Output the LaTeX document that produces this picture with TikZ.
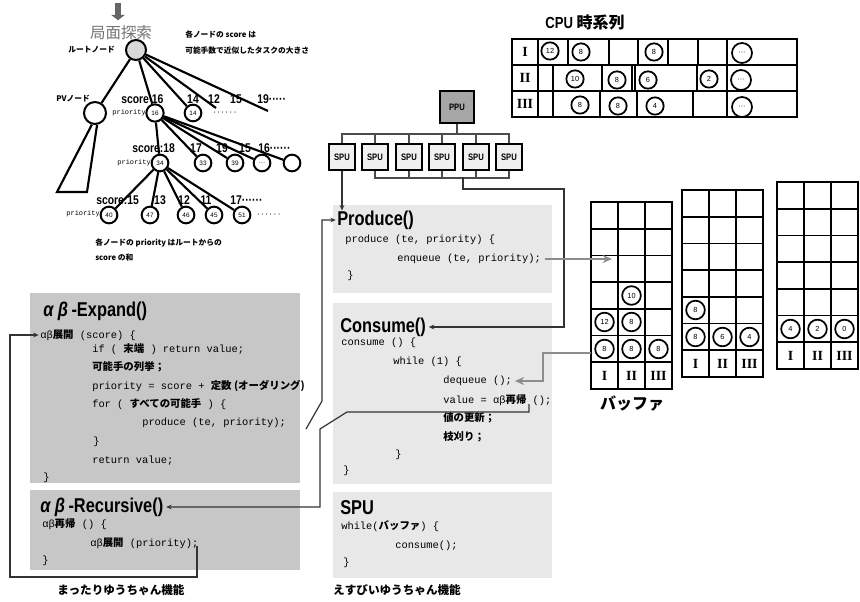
\documentclass[tikz,border=0pt]{standalone}
\usepackage{fontspec}
\setmainfont{Liberation Sans}
\setmonofont{Liberation Mono}
\newfontfamily\jp{Noto Sans CJK JP}
\newfontfamily\condb{Liberation Sans}[FakeStretch=0.82]
\newfontfamily\romanf{Liberation Serif}
\usepackage{tikz}
\usetikzlibrary{arrows.meta}
\newcommand{\jb}[1]{{\jp\bfseries #1}}
\definecolor{cPanel}{gray}{0.78}
\definecolor{cPanelLt}{gray}{0.91}
\definecolor{cFeed}{gray}{0.55}
\tikzset{
	tnode/.style  ={circle, draw=black, line width=1.5pt, minimum size=12.5pt, inner sep=0pt, font=\fontsize{4.8}{5}\selectfont},
	tedge/.style  ={line width=1.6pt},
	score/.style  ={font=\condb\bfseries\fontsize{9.5}{10}\selectfont, inner sep=0pt},
	prio/.style   ={font=\ttfamily\fontsize{5.2}{6}\selectfont, inner sep=0pt, anchor=east},
	note/.style   ={font=\jp\bfseries\fontsize{5.8}{6}\selectfont, inner sep=0pt, anchor=west},
	panel/.style  ={fill=cPanel},
	panellt/.style={fill=cPanelLt},
	head/.style   ={font=\condb\bfseries\fontsize{15}{16}\selectfont, anchor=west, inner sep=0pt},
	code/.style   ={font=\ttfamily\fontsize{7.8}{8}\selectfont, anchor=west, inner sep=0pt},
	unit/.style   ={rectangle, draw=black, line width=1.4pt, minimum width=19pt, minimum height=19.5pt, fill=black!6, font=\condb\bfseries\fontsize{7}{7}\selectfont},
	bus/.style    ={line width=0.9pt, draw=black!70},
	link/.style   ={-{Stealth[length=4pt,width=3.5pt]}, line width=0.9pt, draw=black!80},
	feed/.style   ={-{Stealth[length=7pt,width=6pt]}, line width=1.8pt, draw=cFeed},
	slot/.style   ={circle, draw=black, line width=1.3pt, minimum size=13pt, inner sep=0pt, font=\fontsize{5.5}{6}\selectfont},
	gridline/.style={line width=1.3pt},
	roman/.style  ={font=\romanf\bfseries\fontsize{10.5}{11}\selectfont, inner sep=0pt},
	caption/.style={font=\jp\bfseries\fontsize{8.7}{9}\selectfont, inner sep=0pt},
}

\begin{document}
\begin{tikzpicture}[x=0.75pt, y=-0.75pt]
\useasboundingbox (0,0) rectangle (860,602);

% code panels
\path[panellt] (333,205) rectangle (552,293);
\path[panellt] (333,303) rectangle (552,484);
\path[panellt] (333,492) rectangle (552,578);
\path[panel] (30,293) rectangle (300,483);
\path[panel] (30,490) rectangle (300,570);

% search tree
\coordinate (drop) at (118,3);
\node[inner sep=0pt, font=\jp\fontsize{11.6}{12}\selectfont, text=black!55] (search) at (121,33) {局面探索};
\draw[line width=5pt, draw=black!60, shorten >=4pt, -{Triangle[length=4pt,width=10pt]}] (drop) -- (search.north -| drop);
\node[tnode, fill=black!15, minimum size=15pt] (root) at (136,50) {};
\node[note, anchor=east] (rootlbl) at (115,50) {ルートノード};
\node[note] (sizenote1) at (185,35) {各ノードの score は};
\node[note] (sizenote2) at (185,51) {可能手数で近似したタスクの大きさ};

\node[tnode, minimum size=16.5pt] (pv) at (95,113) {};
\node[tnode, minimum size=13pt] (n16) at (155,113) {16};
\node[tnode] (n14) at (193,113) {14};
\coordinate (c12) at (216,108);
\coordinate (c19) at (268,111);
\node[note] (pvlbl) at (56,99) {PVノード};
\node[score, anchor=west] (s16) at (121,99) {score 16};
\node[score] (s14) at (193,99) {14};
\node[score] (s12) at (214,99) {12};
\node[score] (s15) at (236,99) {15};
\node[score, anchor=west] (s19) at (257,99) {19·····};
\node[prio] (p16) at (146,113) {priority};
\node[prio, anchor=west] (more1) at (212,113) {······};
\foreach \t in {pv,n16,n14,c12,c19} \draw[tedge] (root) -- (\t);
\coordinate (pvl) at (57,192);
\coordinate (pvr) at (87,192);
\draw[tedge] (pv.-105) -- (pvl) -- (pvr) -- (pv.-80);

\node[tnode] (n34) at (160,163) {34};
\node[tnode] (n33) at (203,163) {33};
\node[tnode] (n39) at (235,163) {39};
\node[tnode] (n2d) at (262,163) {···};
\node[tnode] (n2e) at (292,163) {};
\node[score, anchor=west] (s18) at (132,148) {score:18};
\node[score] (s17) at (196,148) {17};
\node[score] (s19b) at (222,148) {19};
\node[score] (s15b) at (245,148) {15};
\node[score, anchor=west] (s16b) at (258,148) {16······};
\node[prio] (p34) at (151,163) {priority};
\foreach \t in {n34,n33,n39,n2d,n2e} \draw[tedge] (n16) -- (\t);

\node[tnode] (n40) at (109,215) {40};
\node[tnode] (n47) at (150,215) {47};
\node[tnode] (n46) at (186,215) {46};
\node[tnode] (n45) at (214,215) {45};
\node[tnode] (n51) at (242,215) {51};
\node[prio, anchor=west] (more3) at (256,215) {······};
\node[score, anchor=west] (s15c) at (96,200) {score:15};
\node[score] (s13) at (160,200) {13};
\node[score] (s12c) at (184,200) {12};
\node[score] (s11) at (206,200) {11};
\node[score, anchor=west] (s17c) at (230,200) {17······};
\node[prio] (p40) at (100,214) {priority};
\foreach \t in {n40,n47,n46,n45,n51} \draw[tedge] (n34) -- (\t);
\node[note] (sumnote1) at (95,243) {各ノードの priority はルートからの};
\node[note] (sumnote2) at (95,258) {score の和};

% CPU time line
\node[font=\condb\bfseries\fontsize{12}{12}\selectfont, inner sep=0pt] (cputitle) at (585,22) {CPU \jb{時系列}};
\draw[gridline] (512,39) rectangle (797,117);
\draw[gridline] (512,65) -- (797,65) (512,91) -- (797,91) (538,39) -- (538,117);
\foreach \x in {568,609,638,668,698,727} \draw[gridline] (\x,39) -- (\x,65);
\foreach \x in {553,602,632,635,697,727} \draw[gridline] (\x,65) -- (\x,91);
\foreach \x in {553,600,637,693,727} \draw[gridline] (\x,91) -- (\x,117);
\node[roman] (cpu1) at (525,52) {I};
\node[roman] (cpu2) at (525,78) {II};
\node[roman] (cpu3) at (525,104) {III};
\node[slot] (t1a) at (550,51) {12};
\node[slot] (t1b) at (581,52) {8};
\node[slot] (t1c) at (654,52) {8};
\node[slot, minimum size=15pt] (t1d) at (742,53) {···};
\node[slot] (t2a) at (575,79) {10};
\node[slot] (t2b) at (617,80) {8};
\node[slot] (t2c) at (648,80) {6};
\node[slot] (t2d) at (709,79) {2};
\node[slot, minimum size=15pt] (t2e) at (741,80) {···};
\node[slot] (t3a) at (580,105) {8};
\node[slot] (t3b) at (618,106) {8};
\node[slot] (t3c) at (655,106) {4};
\node[slot, minimum size=15pt] (t3d) at (742,107) {···};

% PPU and SPUs
\node[unit, fill=black!35, minimum width=26pt, minimum height=24pt] (ppu) at (457,107) {PPU};
\foreach \i/\x in {1/342,2/375,3/409,4/442,5/476,6/509}
	\node[unit] (spu\i) at (\x,157) {SPU};
\coordinate (topbus) at (457,135);
\draw[bus] (ppu) -- (topbus);
\draw[bus] (spu1.north) -- ++(0,-9) -| (spu6.north);
\foreach \i in {2,...,5} \draw[bus] (spu\i.north) -- (spu\i.north |- topbus);
\draw[bus] (spu2.south) -- ++(0,7) -| (spu6.south);
\foreach \i in {3,4,5} \draw[bus] (spu\i.south) -- ++(0,7);
\coordinate (tap) at (463,177);

% Produce
\node[head] (phead) at (337,220) {Produce()};
\node[code] (p1) at (345,240) {produce (te, priority) \{};
\node[code] (p2) at (397,259) {enqueue (te, priority);};
\node[code] (p3) at (347,276) {\}};

% Consume
\node[head] (chead) at (340,327) {Consume()};
\node[code] (c1) at (341,343) {consume () \{};
\node[code] (c2) at (393,362) {while (1) \{};
\node[code] (c3) at (443,381) {dequeue ();};
\node[code] (c4) at (443,400) {value = αβ\jb{再帰} ();};
\node[code] (c5) at (443,418) {\jb{値の更新；}};
\node[code] (c6) at (443,437) {\jb{枝刈り；}};
\node[code] (c7) at (395,455) {\}};
\node[code] (c8) at (343,471) {\}};

% SPU loop
\node[head] (shead) at (340,508) {SPU};
\node[code] (s1) at (341,526) {while(\jb{バッファ}) \{};
\node[code] (s2) at (395,546) {consume();};
\node[code] (s3) at (343,563) {\}};
\node[caption] (spucap) at (397,590) {えすびいゆうちゃん機能};

% alpha-beta expand
\node[head] (ehead) at (43,311) {\textit{α β}\,-Expand()};
\node[code] (e1) at (40,335) {αβ\jb{展開} (score) \{};
\node[code] (e2) at (92,349) {if ( \jb{末端} ) return value;};
\node[code] (e3) at (92,367) {\jb{可能手の列挙；}};
\node[code] (e4) at (92,386) {priority = score + \jb{定数 (オーダリング)}};
\node[code] (e5) at (92,404) {for ( \jb{すべての可能手} ) \{};
\node[code] (e6) at (142,423) {produce (te, priority);};
\node[code] (e7) at (93,442) {\}};
\node[code] (e8) at (92,461) {return value;};
\node[code] (e9) at (43,478) {\}};

% alpha-beta recursive
\node[head] (rhead) at (40,507) {\textit{α β}\,-Recursive()};
\node[code] (r1) at (42,524) {αβ\jb{再帰} () \{};
\node[code] (r2) at (90,543) {αβ\jb{展開} (priority);};
\node[code] (r3) at (42,561) {\}};
\node[caption] (lcap) at (121,590) {まったりゆうちゃん機能};

% buffers
\foreach \bx/\by [count=\k] in {591/202,682/190,777/182} {
	\foreach \c in {1,2} \draw[gridline] (\bx+\c*27,\by) -- (\bx+\c*27,\by+187);
	\foreach \r in {1,...,6} \draw[gridline] (\bx,\by+\r*26.7) -- (\bx+81,\by+\r*26.7);
	\draw[gridline] (\bx,\by) rectangle (\bx+81,\by+187);
	\foreach \c/\t in {0/I,1/II,2/III}
		\node[roman] (buf\k-\c) at (\bx+13.5+\c*27,\by+173.6) {\t};
}
\node[slot, minimum size=14pt] (b1a) at (604.5,349) {8};
\node[slot, minimum size=14pt] (b1b) at (631.5,349) {8};
\node[slot, minimum size=14pt] (b1c) at (658.5,349) {8};
\node[slot, minimum size=14pt] (b1d) at (604.5,322) {12};
\node[slot, minimum size=14pt] (b1e) at (631.5,322) {8};
\node[slot, minimum size=14pt] (b1f) at (631.5,295.5) {10};
\node[slot, minimum size=14pt] (b2a) at (695.5,337) {8};
\node[slot, minimum size=14pt] (b2b) at (722.5,337) {6};
\node[slot, minimum size=14pt] (b2c) at (749.5,337) {4};
\node[slot, minimum size=14pt] (b2d) at (695.5,310) {8};
\node[slot, minimum size=14pt] (b3a) at (790.5,329) {4};
\node[slot, minimum size=14pt] (b3b) at (817.5,329) {2};
\node[slot, minimum size=14pt] (b3c) at (844.5,329) {0};
\node[font=\jp\bfseries\fontsize{12}{12}\selectfont, inner sep=0pt] (bufcap) at (632,404) {バッファ};
\coordinate (b1in) at (612,259);
\coordinate (b1out) at (591,353);

% connectors
\draw[link] (spu1) -- (spu1 |- phead.north);
\draw[link, shorten >=2pt] (tap) -- ++(0,12) -- ++(101,0) |- (chead.east);
\draw[feed, shorten <=3pt] (p2.east) -- (b1in);
\draw[feed, shorten >=2pt] (b1out) -- ++(-48,0) |- (c3.east);
\coordinate (es) at (306,429);
\draw[link, shorten >=1pt] (es) -- ++(16,-28) |- (phead.west);
\coordinate (vs) at (529,404);
\draw[link, shorten >=2pt] (vs) -- ++(0,8) -- ++(-182,0) -- ++(-27,17) |- (rhead.east);
\coordinate (rs) at (197,546);
\draw[link, shorten >=1pt] (rs) -- ++(0,31) -- ++(-187,0) |- (e1.west);
\end{tikzpicture}
\end{document}
